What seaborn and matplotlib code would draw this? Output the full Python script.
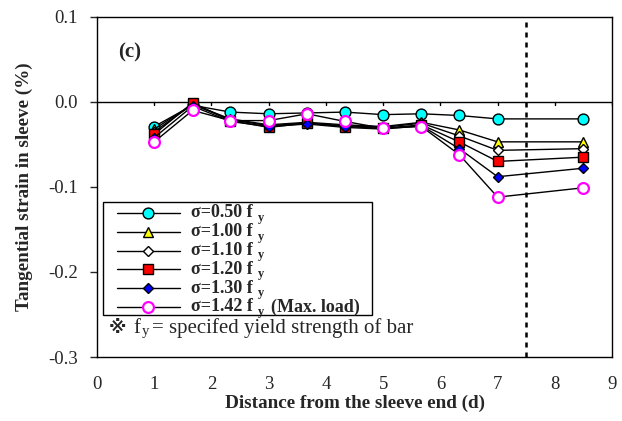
import matplotlib
matplotlib.use("Agg")
import matplotlib.pyplot as plt
import seaborn as sns
import pandas as pd
from matplotlib.lines import Line2D
from matplotlib.patches import Rectangle

# ---- data ----
distance = [1.0, 1.67, 2.33, 3.0, 3.67, 4.33, 5.0, 5.67, 6.33, 7.0, 8.5]
s050 = [-0.029, -0.004, -0.012, -0.014, -0.013, -0.012, -0.015, -0.014, -0.016, -0.020, -0.020]
s100 = [-0.032, -0.003, -0.020, -0.027, -0.024, -0.027, -0.029, -0.024, -0.033, -0.047, -0.047]
s110 = [-0.035, -0.003, -0.021, -0.028, -0.025, -0.028, -0.030, -0.025, -0.040, -0.057, -0.055]
s120 = [-0.038, -0.001, -0.022, -0.030, -0.025, -0.029, -0.031, -0.027, -0.047, -0.070, -0.065]
s130 = [-0.042, -0.005, -0.023, -0.029, -0.026, -0.030, -0.032, -0.028, -0.055, -0.088, -0.078]
s142 = [-0.047, -0.010, -0.022, -0.022, -0.014, -0.023, -0.031, -0.029, -0.062, -0.112, -0.101]
labels = ["0.50", "1.00", "1.10", "1.20", "1.30", "1.42"]
suffixes = ["", "", "", "", "", "(Max. load)"]
series = [s050, s100, s110, s120, s130, s142]
x_ticks = [0, 1, 2, 3, 4, 5, 6, 7, 8, 9]
y_ticks = [-0.3, -0.2, -0.1, 0.0, 0.1]
limit_x = 7.5

sns.set_theme(style="white")
plt.rcParams["font.family"] = ["Liberation Serif", "DejaVu Sans", "Noto Sans CJK JP"]
plt.rcParams["axes.unicode_minus"] = False

styles = [
    dict(marker="o", markersize=7.8, markerfacecolor="#00FFFF", markeredgecolor="black", markeredgewidth=1.0),
    dict(marker="^", markersize=7.8, markerfacecolor="#FFFF00", markeredgecolor="black", markeredgewidth=1.0),
    dict(marker="D", markersize=5.5, markerfacecolor="white", markeredgecolor="black", markeredgewidth=1.0),
    dict(marker="s", markersize=7.5, markerfacecolor="#FF0000", markeredgecolor="black", markeredgewidth=1.0),
    dict(marker="D", markersize=5.5, markerfacecolor="#0000FF", markeredgecolor="black", markeredgewidth=1.0),
    dict(marker="o", markersize=7.8, markerfacecolor="white", markeredgecolor="#FF00FF", markeredgewidth=1.6),
]

fig = plt.figure(figsize=(6.22, 4.21), dpi=100)
ax = fig.add_axes([0.156, 0.152, 0.828, 0.808])

for lab, vals, st in zip(labels, series, styles):
    df = pd.DataFrame({"x": distance, "y": vals})
    sns.lineplot(data=df, x="x", y="y", ax=ax, color="black", linewidth=1.0,
                 sort=False, estimator=None, **st)

ax.axhline(0.0, color="black", linewidth=1.0, zorder=1)
for t in range(1, 10):
    ax.plot([t, t], [0.0, -0.004], color="black", linewidth=1.0, zorder=1)
ax.axvline(limit_x, color="black", linewidth=1.8, linestyle=(0, (2, 2)), zorder=1)

ax.set_xlim(0, 9)
ax.set_ylim(-0.3, 0.1)
ax.set_xticks(x_ticks)
ax.set_yticks(y_ticks)
ax.set_yticklabels(["%.1f" % v for v in y_ticks])
ax.tick_params(axis="x", length=0, pad=14, labelsize=13.5)
ax.tick_params(axis="y", direction="out", length=5, width=1, left=True, pad=9, labelsize=13.5)
for sp in ax.spines.values():
    sp.set_color("black")
    sp.set_linewidth(1.0)

ax.set_xlabel("Distance from the sleeve end (d)", fontsize=13.8, fontweight="bold", labelpad=1)
ax.set_ylabel("Tangential strain in sleeve (%)", fontsize=13.8, fontweight="bold", labelpad=11)

ax.text(0.04, 0.895, "(c)", transform=ax.transAxes, fontsize=15, fontweight="bold",
        ha="left", va="center")

# legend box (drawn by hand for Excel-like tight rows)
ax.add_patch(Rectangle((0.0117, 0.1235), 0.5223, 0.3325, transform=ax.transAxes,
                       facecolor="white", edgecolor="black", linewidth=1.0, zorder=4))
row_top_px = 213.0
row_step_px = 18.8
for i, (lab, suf, st) in enumerate(zip(labels, suffixes, styles)):
    yy = (357.0 - (row_top_px + i * row_step_px)) / 340.0
    ax.add_line(Line2D([0.0388, 0.161], [yy, yy], transform=ax.transAxes, color="black",
                       linewidth=1.0, zorder=5))
    ax.add_line(Line2D([0.0998], [yy], transform=ax.transAxes, linestyle="none",
                       zorder=6, **st))
    main = ax.text(0.1825, yy, "σ=%s f" % lab, transform=ax.transAxes, fontsize=13,
                   fontweight="bold", ha="left", va="center", zorder=6)
    sub = ax.annotate("y", xy=(1, 0.5), xycoords=main, xytext=(3.5, -3.5),
                      textcoords="offset points", fontsize=9, fontweight="bold",
                      ha="left", va="center", zorder=6)
    if suf:
        ax.annotate(suf, xy=(1, 0.5), xycoords=sub, xytext=(5, 3.5),
                    textcoords="offset points", fontsize=13, fontweight="bold",
                    ha="left", va="center", zorder=6)

# footnote
note_y = 0.085
ax.text(0.022, note_y, "※", transform=ax.transAxes, fontsize=13, fontweight="bold",
        family=["DejaVu Sans", "Noto Sans CJK JP"], ha="left", va="center")
fpart = ax.text(0.070, note_y, "f", transform=ax.transAxes, fontsize=15, ha="left", va="center")
ypart = ax.annotate("y", xy=(1, 0.5), xycoords=fpart, xytext=(1, -2.5),
                    textcoords="offset points", fontsize=10.5, ha="left", va="center")
ax.annotate("= specifed yield strength of bar", xy=(1, 0.5), xycoords=ypart, xytext=(2, 2.5),
            textcoords="offset points", fontsize=15, ha="left", va="center")

fig.savefig("out.png", dpi=100)
